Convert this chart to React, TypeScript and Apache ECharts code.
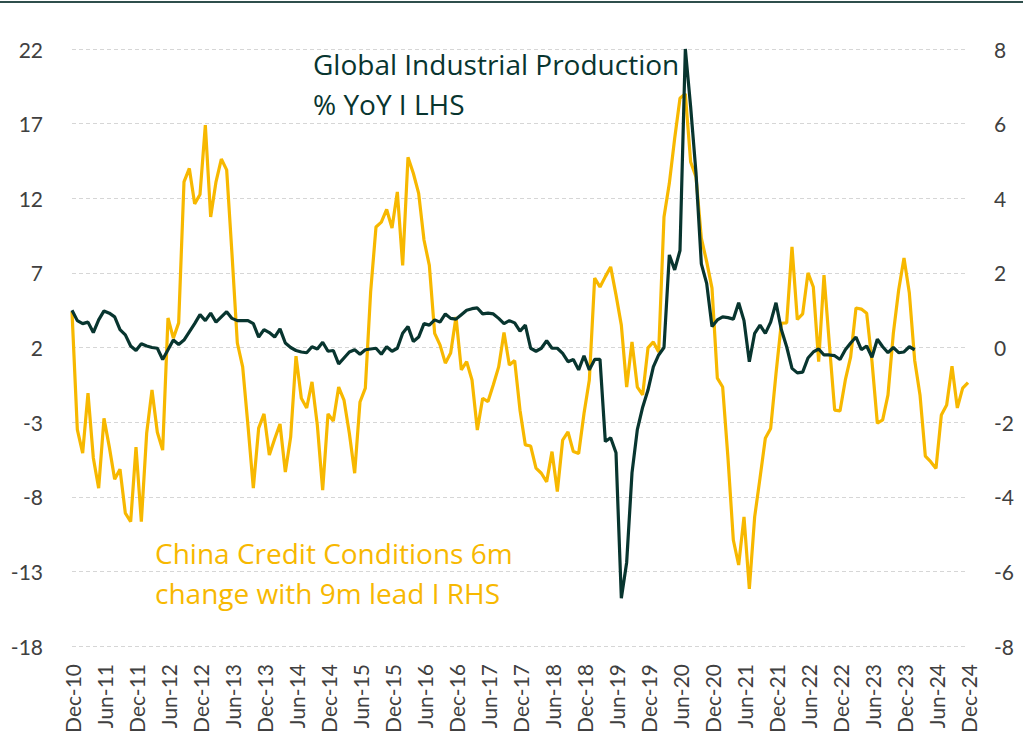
import React, { useEffect, useRef } from "react";
import * as echarts from "echarts";

const monthNames = ["Jan", "Feb", "Mar", "Apr", "May", "Jun", "Jul", "Aug", "Sep", "Oct", "Nov", "Dec"];
// Monthly categories Dec-10 .. Dec-24
const categories: string[] = [];
for (let i = 0; i < 169; i++) {
  const m = (11 + i) % 12;
  const y = 10 + Math.floor((11 + i) / 12);
  categories.push(`${monthNames[m]}-${String(y).padStart(2, "0")}`);
}

const leftTicks = [-18, -13, -8, -3, 2, 7, 12, 17, 22];

// Global Industrial Production % YoY (LHS)
const globalIP = [
  4.5, 3.8, 3.6, 3.7, 3.0, 3.85, 4.45, 4.3, 4.05, 3.2,
  2.85, 2.1, 1.8, 2.25, 2.1, 2.0, 1.95, 1.2, 1.85, 2.5,
  2.2, 2.5, 3.05, 3.6, 4.2, 3.8, 4.3, 3.7, 4.05, 4.4,
  3.95, 3.8, 3.8, 3.8, 3.6, 2.7, 3.2, 3.0, 2.7, 3.25,
  2.3, 2.0, 1.8, 1.7, 1.65, 2.05, 1.9, 2.35, 1.75, 1.8,
  0.9, 1.3, 1.7, 1.85, 1.55, 1.85, 1.9, 1.95, 1.55, 2.05,
  1.75, 1.95, 2.95, 3.4, 2.4, 2.7, 3.6, 3.5, 3.85, 3.7,
  4.25, 3.95, 3.9, 4.2, 4.5, 4.6, 4.65, 4.25, 4.3, 4.25,
  3.95, 3.6, 3.8, 3.65, 3.1, 3.5, 1.95, 1.75, 1.95, 2.45,
  1.95, 1.95, 1.6, 1.05, 1.2, 0.5, 1.45, 0.5, 1.2, 1.2,
  -4.3, -4.05, -5.05, -14.8, -12.4, -6.4, -3.5, -2.0, -0.85, 0.7,
  1.5, 2.0, 8.2, 7.2, 8.5, 22, 18.1, 13.7, 7.6, 6.3,
  3.4, 3.85, 4.05, 4.0, 3.9, 5.0, 3.8, 1.05, 2.95, 3.5,
  2.95, 3.7, 5.0, 3.2, 2.05, 0.6, 0.3, 0.35, 1.3, 1.7,
  1.9, 1.5, 1.5, 1.45, 1.2, 1.85, 2.3, 2.7, 1.85, 2.1,
  1.35, 2.55, 2.05, 1.65, 2.0, 1.65, 1.7, 2.05, 1.85,
];

// China Credit Conditions 6m change with 9m lead (RHS)
const chinaCredit = [
  0.96, -2.2, -2.83, -1.22, -2.96, -3.77, -1.9, -2.67, -3.53, -3.26,
  -4.44, -4.67, -2.67, -4.67, -2.3, -1.14, -2.27, -2.75, 0.79, 0.25,
  0.66, 4.44, 4.8, 3.85, 4.1, 5.96, 3.5, 4.44, 5.05, 4.76,
  2.5, 0.12, -0.52, -2.1, -3.77, -2.16, -1.78, -2.88, -2.45, -2.05,
  -3.34, -2.4, -0.23, -1.36, -1.62, -0.92, -2.08, -3.82, -1.78, -1.97,
  -1.06, -1.41, -2.3, -3.37, -1.46, -1.09, 1.5, 3.23, 3.36, 3.7,
  3.2, 4.17, 2.2, 5.1, 4.67, 4.13, 2.88, 2.2, 0.38, 0.07,
  -0.42, -0.15, 0.82, -0.6, -0.38, -0.87, -2.21, -1.36, -1.45, -1.0,
  -0.52, 0.4, -0.47, -0.35, -1.68, -2.61, -2.64, -3.23, -3.37, -3.6,
  -2.79, -3.86, -2.48, -2.26, -2.79, -2.84, -1.77, -0.87, 1.86, 1.62,
  1.9, 2.16, 1.41, 0.6, -1.06, 0.15, -1.06, -1.27, -0.01, 0.15,
  -0.12, 3.5, 4.4, 5.6, 6.68, 6.8, 4.97, 4.57, 2.93, 2.3,
  1.59, -0.82, -1.06, -2.97, -5.16, -5.83, -4.54, -6.47, -4.54, -3.5,
  -2.43, -2.17, -0.7, 0.65, 0.66, 2.7, 0.75, 0.9, 2.0, 1.62,
  -0.38, 1.94, 0.1, -1.68, -1.7, -0.87, -0.25, 1.06, 1.03, 0.92,
  -0.38, -2.03, -1.94, -1.27, 0.38, 1.54, 2.4, 1.46, -0.34, -1.27,
  -2.91, -3.06, -3.24, -1.81, -1.54, -0.5, -1.62, -1.09, -0.94,
];

const DARK = "#08352f";
const YELLOW = "#f7b800";
const LABEL = "#404040";
const FONT = "Lato, 'Noto Sans', sans-serif";
const NOTE_FONT = "'Open Sans', 'Noto Sans', sans-serif";

export default function App() {
  const ref = useRef<HTMLDivElement>(null);

  useEffect(() => {
    if (!ref.current) return;
    const chart = echarts.init(ref.current, undefined, { renderer: "svg" });
    chart.setOption({
      animation: false,
      backgroundColor: "#ffffff",
      textStyle: { fontFamily: FONT },
      grid: {
        left: 72,
        right: 55,
        top: 49,
        bottom: 96,
        containLabel: false,
        outerBoundsMode: "none",
      },
      xAxis: {
        type: "category",
        data: categories,
        boundaryGap: false,
        axisLine: { show: false },
        axisTick: { show: false },
        splitLine: { show: false },
        axisLabel: {
          interval: 5,
          rotate: 90,
          fontSize: 21,
          color: LABEL,
          fontFamily: FONT,
          margin: 18,
          hideOverlap: false,
        },
      },
      yAxis: [
        {
          type: "value",
          position: "left",
          min: -18,
          max: 22,
          axisLine: { show: false },
          axisTick: { show: false, customValues: leftTicks },
          splitLine: { show: false },
          axisLabel: {
            customValues: leftTicks,
            fontSize: 21,
            color: LABEL,
            fontFamily: FONT,
            margin: 29,
          },
        },
        {
          type: "value",
          position: "right",
          min: -8,
          max: 8,
          interval: 2,
          axisLine: { show: false },
          axisTick: { show: false },
          splitLine: {
            show: true,
            lineStyle: { color: "#d6d6d6", width: 1, type: [4, 3] },
          },
          axisLabel: {
            fontSize: 21,
            color: LABEL,
            fontFamily: FONT,
            margin: 26,
          },
        },
      ],
      series: [
        {
          name: "China Credit Conditions",
          type: "line",
          yAxisIndex: 1,
          data: chinaCredit,
          showSymbol: false,
          symbol: "none",
          lineStyle: { color: YELLOW, width: 3.2 },
          itemStyle: { color: YELLOW },
          z: 2,
        },
        {
          name: "Global Industrial Production",
          type: "line",
          yAxisIndex: 0,
          data: globalIP,
          showSymbol: false,
          symbol: "none",
          lineStyle: { color: DARK, width: 3.2 },
          itemStyle: { color: DARK },
          z: 3,
        },
      ],
      graphic: [
        {
          type: "rect",
          left: 0,
          top: 1,
          shape: { width: 1023, height: 2 },
          style: { fill: "#2f4f4c" },
          silent: true,
        },
        {
          type: "text",
          x: 313,
          y: 64,
          style: {
            text: "Global Industrial Production",
            fill: DARK,
            fontSize: 28,
            fontFamily: NOTE_FONT,
            verticalAlign: "middle",
          },
          z: 1,
        },
        {
          type: "text",
          x: 313,
          y: 104,
          style: {
            text: "% YoY I LHS",
            fill: DARK,
            fontSize: 28,
            fontFamily: NOTE_FONT,
            verticalAlign: "middle",
          },
          z: 1,
        },
        {
          type: "text",
          x: 155,
          y: 553,
          style: {
            text: "China Credit Conditions 6m",
            fill: YELLOW,
            fontSize: 28,
            fontFamily: NOTE_FONT,
            verticalAlign: "middle",
          },
        },
        {
          type: "text",
          x: 155,
          y: 593,
          style: {
            text: "change with 9m lead I RHS",
            fill: YELLOW,
            fontSize: 28,
            fontFamily: NOTE_FONT,
            verticalAlign: "middle",
          },
        },
      ],
    });
    return () => chart.dispose();
  }, []);

  return (
    <div
      ref={ref}
      style={{ position: "absolute", left: 0, top: 0, width: 1023, height: 742, background: "#fff" }}
    />
  );
}
